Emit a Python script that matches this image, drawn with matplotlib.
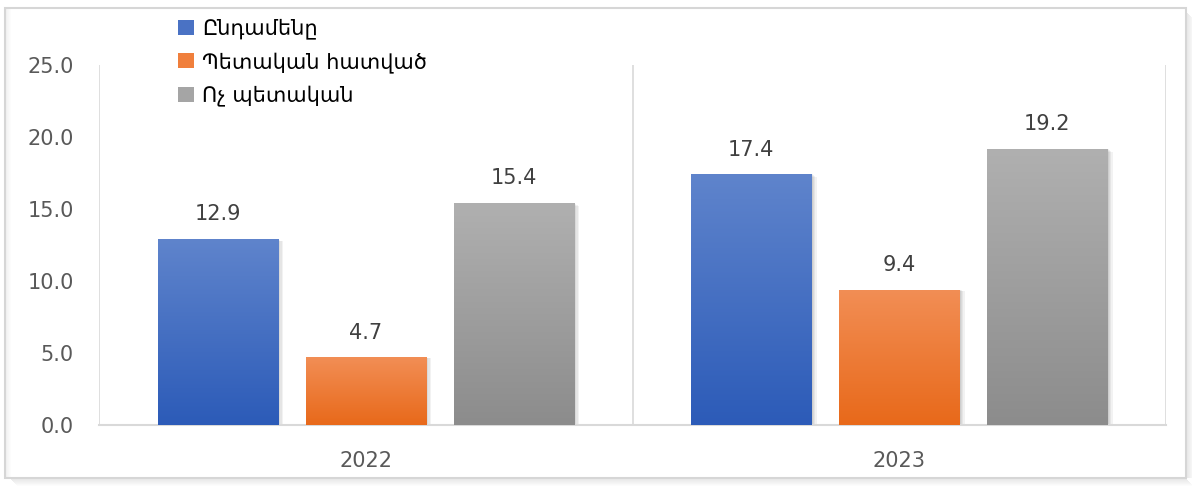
import numpy as np
import matplotlib
matplotlib.use("Agg")
import matplotlib.pyplot as plt
from matplotlib.patches import Rectangle, Patch
from matplotlib.colors import LinearSegmentedColormap

plt.rcParams['font.family'] = ['DejaVu Sans']

years = ["2022", "2023"]
series_names = ["Ընդամենը", "Պետական հատված", "Ոչ պետական"]
values = {
    "Ընդամենը": [12.9, 17.4],
    "Պետական հատված": [4.7, 9.4],
    "Ոչ պետական": [15.4, 19.2],
}
yticks = [0, 5, 10, 15, 20, 25]

# top / bottom shades of each series gradient
shades = {
    "Ընդամենը": ("#5F84CC", "#2C5BB8"),
    "Պետական հատված": ("#F28E55", "#E8691A"),
    "Ոչ պետական": ("#B0B0B0", "#8C8C8C"),
}
legend_colors = ["#4A72C4", "#F07F3C", "#A5A5A5"]

W, H = 1192, 488
fig = plt.figure(figsize=(W / 100, H / 100), dpi=100)

# outer frame with soft shadow
bg = fig.add_axes([0, 0, 1, 1], zorder=-10)
bg.set_xlim(0, W)
bg.set_ylim(H, 0)
bg.axis("off")
for i in range(8):
    a = 0.10 * (1 - i / 8)
    bg.add_patch(Rectangle((1186 + i, 12 + i), 1, 466 - i, color="black", alpha=a, lw=0))
    bg.add_patch(Rectangle((10 + i, 478 + i), 1176, 1, color="black", alpha=a, lw=0))
bg.add_patch(Rectangle((5, 8), 1181, 470, facecolor="white", edgecolor="#D6D6D6", lw=1.5))
for i in range(5):
    bg.add_patch(Rectangle((6 + i, 9), 1, 468, color="black", alpha=0.05 * (1 - i / 5), lw=0))

ax = fig.add_axes([99 / W, 1 - 425 / H, (1166 - 99) / W, (425 - 65) / H])

x = np.arange(len(years))
width = 0.225
step = 0.2775
grad = np.linspace(0, 1, 256).reshape(-1, 1)

for k, name in enumerate(series_names):
    top_c, bot_c = shades[name]
    cmap = LinearSegmentedColormap.from_list(name, [bot_c, top_c])
    bars = ax.bar(x + (k - 1) * step, values[name], width, color=bot_c, zorder=2)
    for b, v in zip(bars, values[name]):
        x0, w, h = b.get_x(), b.get_width(), b.get_height()
        # soft shadow on the right side
        for j in range(4):
            ax.add_patch(Rectangle((x0 + w, 0), 0.0025 * (j + 1), h * (1 - 0.004 * j),
                                   color="black", alpha=0.05, lw=0, zorder=1))
        im = ax.imshow(grad, extent=(x0, x0 + w, 0, h), origin="lower", cmap=cmap,
                       aspect="auto", zorder=3)
        im.set_clip_path(b)
        ax.annotate(f"{v:.1f}", (x0 + w / 2, h), xytext=(0, 13.5), textcoords="offset points",
                    ha="center", va="baseline", fontsize=15, color="#404040", zorder=4)

handles = [Patch(facecolor=c, edgecolor="none") for c in legend_colors]

ax.set_xlim(-0.5, 1.5)
ax.set_ylim(0, 25)
ax.set_aspect("auto")

for xv in (-0.5, 0.5, 1.5):
    ax.axvline(xv, color="#D9D9D9", lw=1.2, zorder=0)
for s in ("top", "left", "right"):
    ax.spines[s].set_visible(False)
ax.spines["bottom"].set_color("#D9D9D9")
ax.spines["bottom"].set_linewidth(1.5)

ax.set_yticks(yticks)
ax.set_yticklabels([f"{t:.1f}" for t in yticks])
ax.set_xticks(x)
ax.set_xticklabels(years)
ax.tick_params(axis="y", length=0, pad=18, labelsize=15, labelcolor="#595959")
ax.tick_params(axis="x", length=0, pad=19, labelsize=15, labelcolor="#595959")

fig.legend(handles, series_names, loc="upper left", bbox_to_anchor=(168 / W, 1 - 8 / H),
           frameon=False, handlelength=0.75, handleheight=0.75,
           handletextpad=0.4, labelspacing=0.6, borderpad=0,
           prop={"family": ["DejaVu Sans"], "size": 15})

fig.savefig("out.png", dpi=100)
